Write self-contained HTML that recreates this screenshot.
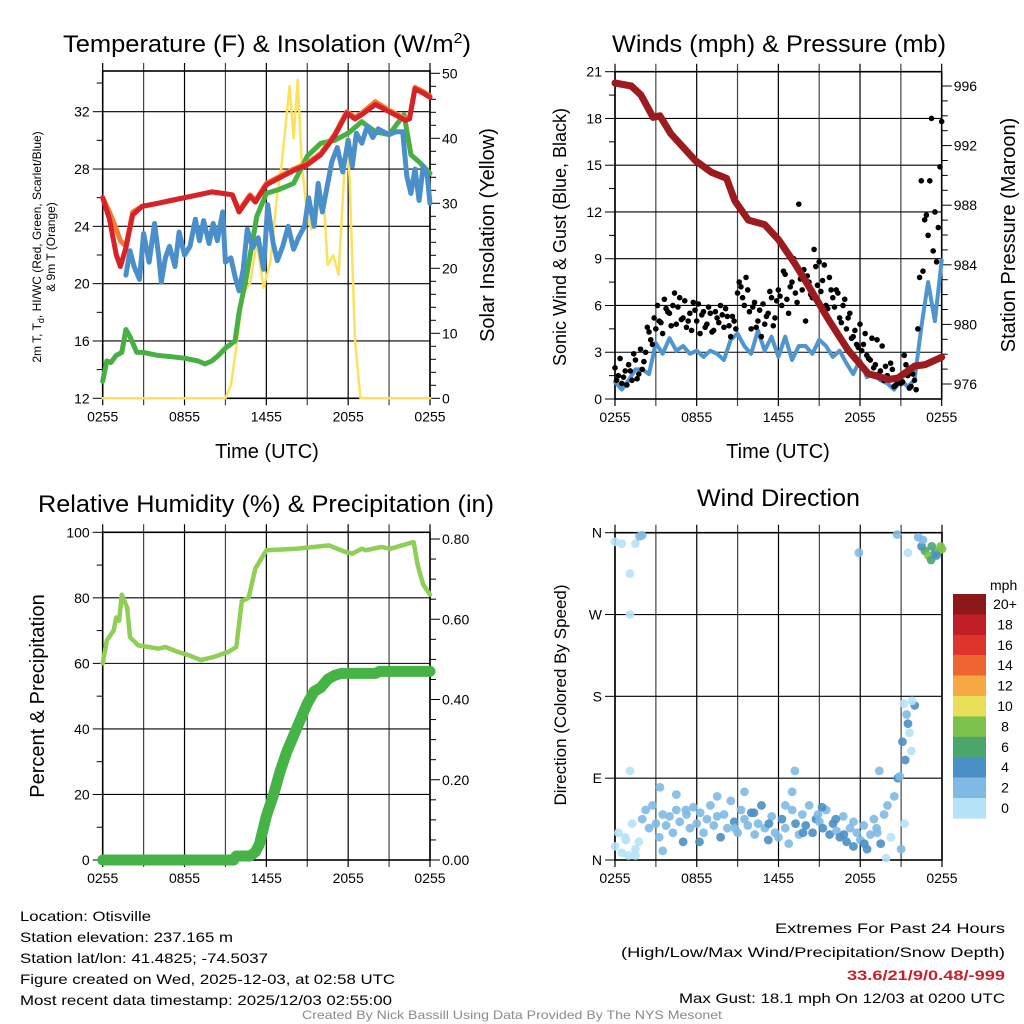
<!DOCTYPE html>
<html><head><meta charset="utf-8"><style>
html,body{margin:0;padding:0;background:#fff;}
svg{display:block;font-family:"Liberation Sans",Arial,sans-serif;}
</style></head><body>
<svg id="chart" width="1024" height="1024" viewBox="0 0 1024 1024" xmlns="http://www.w3.org/2000/svg">
<rect x="0" y="0" width="1024" height="1024" fill="#fff"/>
<g id="layer"></g>
<!-- titles -->
<text x="63" y="52" font-size="24" textLength="408" lengthAdjust="spacingAndGlyphs">Temperature (F) &amp; Insolation (W/m<tspan dy="-9" font-size="15">2</tspan><tspan dy="9">)</tspan></text>
<text x="612" y="52" font-size="24" textLength="334" lengthAdjust="spacingAndGlyphs">Winds (mph) &amp; Pressure (mb)</text>
<text x="38" y="512" font-size="24" textLength="456" lengthAdjust="spacingAndGlyphs">Relative Humidity (%) &amp; Precipitation (in)</text>
<text x="697" y="506" font-size="24" textLength="163" lengthAdjust="spacingAndGlyphs">Wind Direction</text>
<text x="267" y="458" font-size="20" text-anchor="middle">Time (UTC)</text>
<text x="778" y="458" font-size="20" text-anchor="middle">Time (UTC)</text>
<text transform="translate(41,247) rotate(-90)" font-size="12" text-anchor="middle">2m T, T<tspan dy="3" font-size="9">d</tspan><tspan dy="-3">, HI/WC (Red, Green, Scarlet/Blue)</tspan></text>
<text transform="translate(55,247) rotate(-90)" font-size="12" text-anchor="middle">&amp; 9m T (Orange)</text>
<text transform="translate(494,235) rotate(-90)" font-size="20" text-anchor="middle">Solar Insolation (Yellow)</text>
<text transform="translate(566,237) rotate(-90)" font-size="18" text-anchor="middle">Sonic Wind &amp; Gust (Blue, Black)</text>
<text transform="translate(1015,235) rotate(-90)" font-size="20" text-anchor="middle">Station Pressure (Maroon)</text>
<text transform="translate(44,696) rotate(-90)" font-size="20" text-anchor="middle">Percent &amp; Precipitation</text>
<text transform="translate(566,695) rotate(-90)" font-size="17" text-anchor="middle">Direction (Colored By Speed)</text>
<!-- footer info -->
<g font-size="14">
<text x="20" y="921" textLength="131" lengthAdjust="spacingAndGlyphs">Location: Otisville</text>
<text x="20" y="942" textLength="213" lengthAdjust="spacingAndGlyphs">Station elevation: 237.165 m</text>
<text x="20" y="963" textLength="248" lengthAdjust="spacingAndGlyphs">Station lat/lon: 41.4825; -74.5037</text>
<text x="20" y="984" textLength="375" lengthAdjust="spacingAndGlyphs">Figure created on Wed, 2025-12-03, at 02:58 UTC</text>
<text x="20" y="1005" textLength="372" lengthAdjust="spacingAndGlyphs">Most recent data timestamp: 2025/12/03 02:55:00</text>
</g>
<g font-size="14">
<text x="775" y="933" textLength="230" lengthAdjust="spacingAndGlyphs">Extremes For Past 24 Hours</text>
<text x="621" y="957" textLength="384" lengthAdjust="spacingAndGlyphs">(High/Low/Max Wind/Precipitation/Snow Depth)</text>
<text x="847" y="980" fill="#c8202a" font-weight="bold" textLength="158" lengthAdjust="spacingAndGlyphs">33.6/21/9/0.48/-999</text>
<text x="679" y="1003" textLength="326" lengthAdjust="spacingAndGlyphs">Max Gust: 18.1 mph On 12/03 at 0200 UTC</text>
</g>
<text x="302" y="1019" font-size="12" fill="#8a8a8a" textLength="420" lengthAdjust="spacingAndGlyphs">Created By Nick Bassill Using Data Provided By The NYS Mesonet</text>
</svg>
<script>
// ---------- data ----------
const timeTickHours = [0, 6, 12, 18, 24];
const timeTickLabels = ['0255', '0855', '1455', '2055', '0255'];

const redHours = [0,0.5,1,1.3,1.7,2.2,2.9,4,5,6,7,8,8.8,9.5,10,10.8,11.2,12,13,14,15,16,17,17.9,18.5,19,20,21,22.2,22.5,22.9,23.5,24];
const redTemps = [26,24.5,22,21.2,22.5,24.8,25.4,25.6,25.8,26,26.2,26.4,26.3,26.2,25,26.1,25.7,26.9,27.4,27.9,28.3,29,30.3,31.9,31.5,31.8,32.5,32,31.4,31.5,33.6,33.3,33.0];
const orangeHours = [0,0.5,1,1.3,1.7,2.2,2.9,4,5,6,7,8,8.8,9.5,10,10.8,11.2,12,13,14,15,16,17,17.9,18.5,19,20,21,22.2,22.5,22.9,23.5,24];
const orangeTemps = [26,25,23.8,23,22.6,25,25.4,25.6,25.8,26,26.2,26.4,26.3,26.2,25.1,26.2,25.8,27,27.5,28,28.4,29.1,30.4,32,31.6,31.9,32.7,32.1,31.5,31.6,33.7,33.4,33.1];
const dewHours = [0,0.3,0.6,1,1.4,1.7,2,2.5,3,4,5,6,7,7.5,8,8.5,9,9.7,10,10.5,11,11.3,12,13,14,15,16,17,18,19,20,21,22.1,22.6,23.2,24];
const dewTemps = [13.2,14.6,14.5,15,15.2,16.8,16.3,15.2,15.2,15,14.9,14.8,14.6,14.4,14.6,15,15.5,16,18,20.3,23,24.7,26.3,26.6,27,28.9,29.8,30,30.5,31.3,30.6,30.4,31.8,29,28.5,27.7];
const chillHours = [1.7,2.0,2.3,2.7,3.0,3.4,3.8,4.1,4.3,4.6,4.9,5.3,5.6,6.0,6.4,6.8,7.1,7.4,7.8,8.1,8.4,8.8,9.0,9.4,9.7,10.0,10.3,10.6,11.0,11.4,11.8,12.1,12.5,12.8,13.2,13.6,14.0,14.4,14.8,15.1,15.5,15.8,16.1,16.4,16.8,17.2,17.6,18.0,18.3,18.6,19.0,19.4,19.8,20.2,20.6,21.0,21.5,22.0,22.3,22.6,22.9,23.2,23.5,23.8,24.0];
const chillTemps = [20.6,22.3,21.2,20.3,23.5,21.5,24.2,22.0,20.1,21.8,22.6,21.2,23.6,22.0,22.6,24.5,23.0,24.4,22.8,24.2,23.0,25.0,21.5,21.8,20.5,19.5,21.0,23.8,22.5,23.2,21.0,25.5,22.8,21.6,22.6,24.0,22.4,23.3,24.0,26.0,24.0,27.0,25.0,26.5,28.5,29.5,27.8,30.0,28.2,30.5,29.8,31.0,30.2,30.8,30.6,30.4,30.6,30.6,27.5,26.3,28.0,25.8,28.2,27.5,25.6];
const solarHours = [0,9.0,9.4,9.8,10.3,10.8,11.3,11.8,12.3,12.75,13.1,13.5,13.7,14.0,14.3,14.6,15.0,15.3,15.7,16.2,16.5,16.9,17.3,17.6,17.9,18.1,18.5,18.9,24];
const solarValues = [0,0,2,7.9,16.2,17.7,24,17,21,30.5,35.6,43.8,48,40,49,36,28,26,29,31,20.5,22,19,30.5,41,34,9,0,0];

const windHours = [0,0.5,1,1.5,2,2.5,3,3.5,4,4.5,5,5.5,6,6.5,7,7.5,8,8.5,9,9.5,10,10.5,11,11.5,12,12.5,13,13.5,14,14.5,15,15.5,16,16.5,17,17.5,18,18.5,19,19.5,20,20.5,21,21.5,22,22.5,23,23.5,24];
const windSpeeds = [1.1,0.6,1.2,1.9,1.9,1.6,3.6,2.9,3.9,3.1,3.4,2.9,3.1,2.7,3.1,2.9,2.5,3.8,4.2,3.4,2.9,4.4,3.1,4.0,2.7,4.0,2.5,3.4,3.4,2.9,3.8,3.4,2.7,3.1,2.3,1.6,2.5,1.4,1.6,1.2,1.0,0.6,1.2,0.8,1.2,4.6,7.5,5.0,8.9];
const gustSpeeds = [2.0,1.5,1.0,1.8, 2.2,1.2,2.5,1.6, 1.9,3.0,4.3,3.5, 4.5,5.0,4.2,5.8, 5.5,6.0,4.8,6.5, 5.2,4.6,5.5,6.2, 5.0,4.2,5.6,4.8, 5.5,4.4,5.2,6.0, 4.6,5.3,4.0,5.0, 6.8,7.2,6.0,7.0, 4.5,6.2,5.0,4.0, 4.8,5.5,6.5,5.2, 7.0,6.0,8.0,5.5, 7.5,6.8,12.5,7.0, 5.0,7.5,6.5,8.5, 8.8,7.6,6.0,7.8, 6.5,7.0,5.2,6.0, 4.5,5.5,4.0,3.5, 4.8,3.5,2.8,2.5, 2.0,3.8,1.8,1.2, 1.5,2.3,0.8,1.2, 1.0,2.8,1.5,0.8, 1.2,4.5,14.0,11.5, 10.5,18.0,12.0,11.0, 17.8];
const gustExtraSpeeds = [1.2,2.6,1.4,0.9, 1.8,2.9,1.3,3.2, 2.4,4.6,3.8,5.2, 6.0,4.9,6.4,5.6, 4.7,6.8,5.9,5.1, 6.3,5.0,4.4,5.7, 6.1,5.4,4.6,5.9, 4.3,5.6,4.9,5.4, 5.8,4.7,5.3,4.5, 7.5,6.5,7.8,5.6, 5.9,4.6,5.7,6.1, 5.3,6.9,4.7,6.3, 6.6,8.2,6.4,7.2, 9.0,6.2,7.7,8.3, 7.9,6.7,9.6,7.3, 6.9,8.6,5.8,7.0, 5.9,6.8,4.9,6.4, 5.2,3.9,4.4,3.3, 3.1,4.2,2.6,3.9, 2.2,1.6,3.4,2.1, 1.3,1.9,0.9,1.4, 1.1,2.2,0.7,1.6, 0.6,7.8,8.2,11.8, 14.0,9.5,8.8,14.9];
const pressureHours = [0,1.2,1.9,2.8,3.3,4.1,5.9,7.1,8.2,8.8,9.8,11,12,13.2,14.4,15.7,17.1,18.6,20.1,20.8,22,22.8,24];
const pressureValues = [996.2,996,995.4,993.9,994,992.8,991,990.2,989.8,988.3,987,986.7,985.7,984.1,982.3,980.3,978.3,976.7,976.3,976.4,977.2,977.3,977.8];

const rhHours = [0,0.3,0.8,1.0,1.2,1.4,1.8,2.0,2.6,4.1,4.6,5.5,6.3,7.2,8.2,9.2,9.8,10.2,10.7,11.2,12.0,14.2,16.6,17.8,18.3,19.0,19.3,20.4,21.1,22.8,23.1,23.5,24];
const rhValues = [60,67,70,74,73,81,77,68,65.5,64.5,65,63.5,62.5,61,62,63.5,65,79,80,89,94.5,95,96,94,93.5,95,94.5,95.5,95,97,90,84,81];
const precipHours = [0,9.6,9.8,10.8,11.2,11.5,12,12.5,13,13.5,14,14.5,15,15.5,16,16.5,17,17.5,18,20,20.3,24];
const precipValues = [0,0,0.01,0.01,0.02,0.04,0.11,0.16,0.22,0.27,0.31,0.35,0.39,0.42,0.43,0.45,0.46,0.465,0.465,0.465,0.47,0.47];

const dirHours = [];
for (let i = 0; i <= 96; i++) dirHours.push(i / 4);
const dirDegrees = [15,30,8,25,5,40,12,20, 45,55,35,60,40,25,50,38, 48,30,55,42,20,50,35,58, 40,52,30,45,60,38,48,25, 50,35,65,42,30,55,45,38, 52,28,40,60,35,22,48,30, 25,45,35,18,55,40,28,50, 38,60,30,45,42,35,55,28, 40,32,25,48,20,35,15,30, 22,38,12,28,45,30,18,50, 60,25,70,90,12,40,150,120, 170,355,345,340,335,345,338,340,342];
const dirSpeeds = [0.5,1,0.5,1,0.5,1,0.5,1, 2,2,2.5,2,3,2,2,3, 2,3,2,2,4,2,3,2, 2,2,3,2,2,3,2,4, 3,2,2,4,3,2,2,3, 4,3,2,4,3,4,2,3, 3,4,2,3,2,4,3,2, 4,3,4,4,2,4,3,4, 4,3,4,2,4,3,4,2, 3,2,4,3,2,3,4,2, 3,1,2,4,2,1,4,1, 4,2,4,6,8,6,4,8,8];
const extraDirHours = [0,0.5,1.1,1.1,1.1,1.5,1.8,2.0,17.9,20.7,21.5,22.6,19.4,20.9,21.2,21.4,21.6,21.8,21.3,21.1,3.3,4.5,7.5,9.5,13.2,13.0,10.2,15.2,16.2,11.3,13.8,16.8,18.3,6.2,3.5,5.2,8.8,12.5,14.9,17.5,19.2,0.8,1.5,19.9,23.2,23.6,23.9];
const extraDirDegrees = [350,348,315,270,98,348,356,357,338,358,338,352,98,92,172,160,140,175,110,130,80,72,70,75,98,75,52,58,45,40,30,28,18,20,10,55,35,60,50,42,35,22,5,2,330,335,345];
const extraDirSpeeds = [1,1,1,1,0.5,1,2,2,2,2,1,2,3,3,1,2,1,1,4,4,2,2,2,2,2,2,4,4,4,4,4,4,4,4,2,2,2,2,2,2,2,1,1,1,6,4,8];

const speedBins = ['0','2','4','6','8','10','12','14','16','18','20+'];
const speedColors = ['#b5e2f7','#7fbae4','#4a8fc6','#4aa66b','#7cc24a','#e7df57','#f6a843','#ef6530','#dd342b','#bf1f27','#8e1719'];

// ---------- helpers ----------
const NS = 'http://www.w3.org/2000/svg';
const layer = document.getElementById('layer');
function mk(tag, attrs, name, parent) {
  const el = document.createElementNS(NS, tag);
  for (const k in attrs) el.setAttribute(k, attrs[k]);
  
  
  (parent || layer).appendChild(el);
  return el;
}
function lin(d0, d1, r0, r1) { return v => r0 + (v - d0) * (r1 - r0) / (d1 - d0); }
function pathFrom(xs, ys, xf, yf) {
  return xs.map((h, i) => (i ? 'L' : 'M') + xf(h).toFixed(1) + ',' + yf(ys[i]).toFixed(1)).join('');
}
function txt(x, y, s, size, anchor, name) {
  const t = mk('text', {x: x, y: y, 'font-size': size, 'text-anchor': anchor}, name);
  t.textContent = s;
  return t;
}

function panel(opt) {
  const {x0, x1, y0, y1, xs, prefix} = opt;
  const g = mk('g', {}, prefix + '-axes');
  for (let h = 0; h <= 24; h += 3) {
    const x = xs(h);
    mk('line', {x1: x, x2: x, y1: y0 - 8, y2: y1 + 7, stroke: (h % 6 === 0 ? '#000' : '#444'), 'stroke-width': 1.2}, prefix + '-x-gridline', g);
  }
  timeTickHours.forEach((h, i) => {
    txt(xs(h), y1 + 23, timeTickLabels[i], 14, 'middle', prefix + '-x-tick-label');
  });
  const L = opt.left;
  for (let v = L.min; v <= L.max + 1e-9; v += L.minor) {
    const y = L.s(v);
    const major = Math.abs((v - L.min) / L.major - Math.round((v - L.min) / L.major)) < 1e-6;
    mk('line', {x1: x0 - (major ? 10 : 6), x2: x0, y1: y, y2: y, stroke: '#000', 'stroke-width': 1}, prefix + '-left-tick', g);
    if (major) {
      mk('line', {x1: x0, x2: x1, y1: y, y2: y, stroke: '#000', 'stroke-width': 1.1}, prefix + '-y-gridline', g);
      const lab = L.labels ? L.labels[Math.round((v - L.min) / L.major)] : String(Math.round(v * 100) / 100);
      txt(x0 - 13, y + 5, lab, 14, 'end', prefix + '-left-tick-label');
    }
  }
  if (opt.right) {
    const R = opt.right;
    for (let v = R.min; v <= R.max + 1e-9; v += R.minor) {
      const y = R.s(v);
      const major = Math.abs((v - R.min) / R.major - Math.round((v - R.min) / R.major)) < 1e-6;
      mk('line', {x1: x1, x2: x1 + (major ? 10 : 6), y1: y, y2: y, stroke: '#000', 'stroke-width': 1}, prefix + '-right-tick', g);
      if (major) txt(x1 + 12, y + 5, R.fmt(v), 14, 'start', prefix + '-right-tick-label');
    }
  }
  mk('rect', {x: x0, y: y0, width: x1 - x0, height: y1 - y0, fill: 'none', stroke: '#000', 'stroke-width': 1.6}, prefix + '-frame', g);
}

// ---------- panel 1: temperature ----------
const xT = lin(0, 24, 102.7, 430), yT = lin(12, 32, 398.3, 111.7), yS = lin(0, 50, 398.3, 73.3);
panel({x0: 102.7, x1: 430, y0: 71, y1: 398.3, xs: xT, prefix: 'temperature',
  left: {min: 12, max: 34, major: 4, minor: 2, s: yT},
  right: {min: 0, max: 50, major: 10, minor: 2, s: yS, fmt: v => String(v)}});
const gT = mk('g', {fill: 'none', 'stroke-linejoin': 'round', 'stroke-linecap': 'round'}, 'temperature-series');
mk('path', {d: pathFrom(solarHours, solarValues, xT, yS), stroke: '#fde15a', 'stroke-width': 2.5}, 'solar-insolation-line', gT);
mk('path', {d: pathFrom(dewHours, dewTemps, xT, yT), stroke: '#48b043', 'stroke-width': 5}, 'dewpoint-line', gT);
mk('path', {d: pathFrom(chillHours, chillTemps, xT, yT), stroke: '#4a8fc9', 'stroke-width': 5}, 'wind-chill-line', gT);
mk('path', {d: pathFrom(orangeHours, orangeTemps, xT, yT), stroke: '#f47b30', 'stroke-width': 5}, 'temperature-9m-line', gT);
mk('path', {d: pathFrom(redHours, redTemps, xT, yT), stroke: '#d62329', 'stroke-width': 5}, 'temperature-2m-line', gT);

// ---------- panel 2: winds & pressure ----------
const xW = lin(0, 24, 615, 941.7), yW = lin(0, 21, 399, 71.7), yP = lin(976, 996, 384, 86);
panel({x0: 615, x1: 941.7, y0: 71.7, y1: 399, xs: xW, prefix: 'winds',
  left: {min: 0, max: 21, major: 3, minor: 1.5, s: yW},
  right: {min: 976, max: 996, major: 4, minor: 1, s: yP, fmt: v => String(v)}});
const gW = mk('g', {fill: 'none', 'stroke-linejoin': 'round', 'stroke-linecap': 'round'}, 'winds-series');
mk('path', {d: pathFrom(windHours, windSpeeds, xW, yW), stroke: '#4f95d0', 'stroke-width': 4}, 'sonic-wind-line', gW);
gustSpeeds.forEach((v, i) => {
  mk('circle', {cx: xW(i / 4), cy: yW(v), r: 2.8, fill: '#000'}, 'gust-point', gW);
});
gustExtraSpeeds.forEach((v, i) => {
  mk('circle', {cx: xW(i / 4 + 0.125), cy: yW(v), r: 2.8, fill: '#000'}, 'gust-point', gW);
});
mk('path', {d: pathFrom(pressureHours, pressureValues, xW, yP), stroke: '#9b1b1e', 'stroke-width': 7}, 'pressure-line', gW);

// ---------- panel 3: humidity & precip ----------
const xR = lin(0, 24, 102.7, 430), yR = lin(0, 100, 860, 532.3), yPr = lin(0, 0.8, 860, 539);
panel({x0: 102.7, x1: 430, y0: 532.3, y1: 860, xs: xR, prefix: 'humidity',
  left: {min: 0, max: 100, major: 20, minor: 10, s: yR},
  right: {min: 0, max: 0.8, major: 0.2, minor: 0.05, s: yPr, fmt: v => v.toFixed(2)}});
const gR = mk('g', {fill: 'none', 'stroke-linejoin': 'round', 'stroke-linecap': 'round'}, 'humidity-series');
mk('path', {d: pathFrom(rhHours, rhValues, xR, yR), stroke: '#8fcf55', 'stroke-width': 4.5}, 'relative-humidity-line', gR);
mk('path', {d: pathFrom(precipHours, precipValues, xR, yPr), stroke: '#46b347', 'stroke-width': 11}, 'precipitation-line', gR);

// ---------- panel 4: wind direction ----------
const xD = lin(0, 24, 615, 942), yD = lin(0, 360, 860, 532.7);
panel({x0: 615, x1: 942, y0: 532.7, y1: 860, xs: xD, prefix: 'direction',
  left: {min: 0, max: 360, major: 90, minor: 90, s: yD, labels: ['N', 'E', 'S', 'W', 'N']}});
const gD = mk('g', {}, 'direction-series');
function speedColor(s) { return speedColors[Math.min(10, Math.floor(s / 2))]; }
dirDegrees.forEach((d, i) => {
  mk('circle', {cx: xD(dirHours[i]), cy: yD(d), r: 4.4, fill: speedColor(dirSpeeds[i]), 'fill-opacity': 0.9}, 'direction-point', gD);
});
extraDirDegrees.forEach((d, i) => {
  mk('circle', {cx: xD(extraDirHours[i]), cy: yD(d), r: 4.4, fill: speedColor(extraDirSpeeds[i]), 'fill-opacity': 0.9}, 'direction-point', gD);
});
// legend
const gL = mk('g', {}, 'speed-legend');
txt(990, 590, 'mph', 14, 'start', 'legend-title');
for (let i = 0; i < speedBins.length; i++) {
  const k = speedBins.length - 1 - i;
  const y = 594 + i * 20.4;
  mk('rect', {x: 953, y: y, width: 33, height: 20.6, fill: speedColors[k]}, 'legend-swatch', gL);
  txt(1005, y + 15, speedBins[k], 14, 'middle', 'legend-label');
}
</script>
</body></html>
